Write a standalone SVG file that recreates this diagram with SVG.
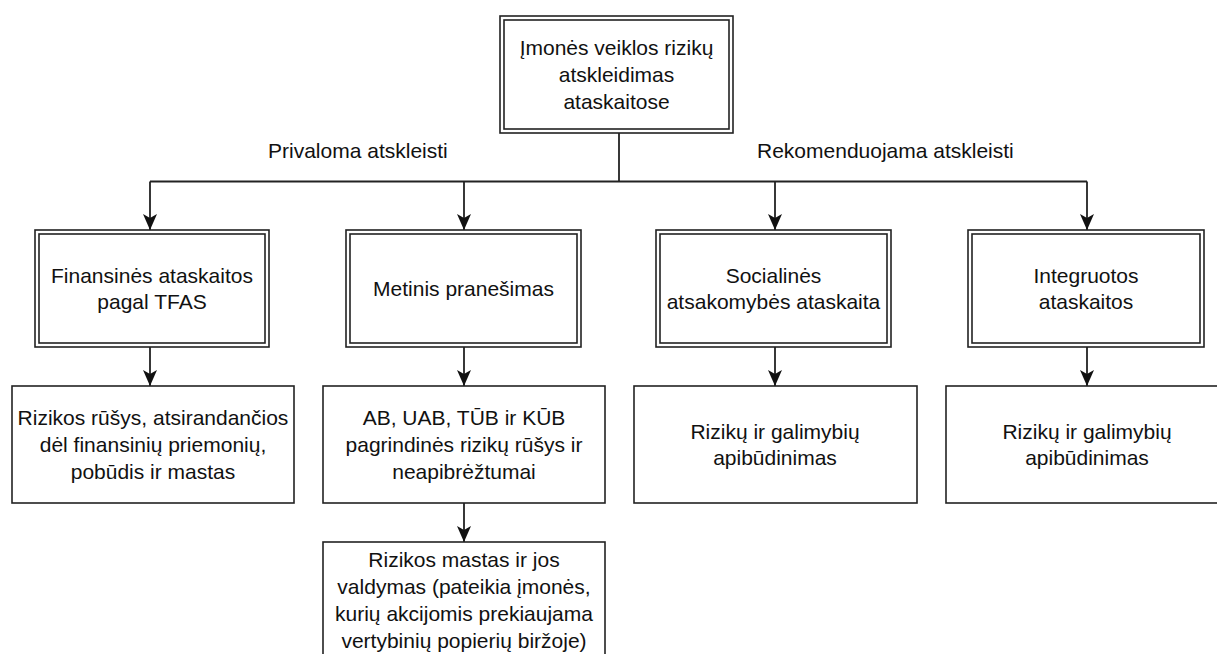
<svg xmlns="http://www.w3.org/2000/svg" width="1217" height="654" viewBox="0 0 1217 654">
  <style>
    .box { fill: #ffffff; stroke: #222222; stroke-width: 1.6; }
    .inner { fill: none; stroke: #222222; stroke-width: 1.6; }
    .edge { fill: none; stroke: #222222; stroke-width: 1.8; }
    text { font-family: "Liberation Sans", Arial, Helvetica, sans-serif; font-size: 21px; fill: #111111; text-anchor: middle; }
    .lbl { text-anchor: start; }
  </style>
  <defs>
    <marker id="arrow" markerUnits="userSpaceOnUse" markerWidth="16" markerHeight="14" refX="16" refY="7" orient="auto">
      <path d="M0,0 L16,7 L0,14 L4,7 Z" fill="#111111"/>
    </marker>
  </defs>
  <rect width="1217" height="654" fill="#ffffff"/>

  <!-- connectors -->
  <g id="connectors">
    <path class="edge" d="M619,133 V181.5"/>
    <path class="edge" d="M150,181.5 H1087"/>
    <path class="edge" d="M150,181.5 V230" marker-end="url(#arrow)"/>
    <path class="edge" d="M464,181.5 V230" marker-end="url(#arrow)"/>
    <path class="edge" d="M775,181.5 V230" marker-end="url(#arrow)"/>
    <path class="edge" d="M1087,181.5 V230" marker-end="url(#arrow)"/>
    <path class="edge" d="M150,347 V386" marker-end="url(#arrow)"/>
    <path class="edge" d="M464,347 V386" marker-end="url(#arrow)"/>
    <path class="edge" d="M775,347 V386" marker-end="url(#arrow)"/>
    <path class="edge" d="M1087,347 V386" marker-end="url(#arrow)"/>
    <path class="edge" d="M464,503 V542" marker-end="url(#arrow)"/>
  </g>

  <!-- edge labels -->
  <text class="lbl" x="268" y="158">Privaloma atskleisti</text>
  <text class="lbl" x="757" y="158">Rekomenduojama atskleisti</text>

  <!-- root -->
  <g id="root">
    <rect class="box" x="500" y="16" width="233" height="117"/>
    <rect class="inner" x="504" y="20" width="225" height="109"/>
    <text x="616.5" y="55">Įmonės veiklos rizikų</text>
    <text x="616.5" y="82">atskleidimas</text>
    <text x="616.5" y="108.5">ataskaitose</text>
  </g>

  <!-- report types -->
  <g id="finansines">
    <rect class="box" x="35" y="230" width="234" height="117"/>
    <rect class="inner" x="39" y="234" width="226" height="109"/>
    <text x="152" y="283">Finansinės ataskaitos</text>
    <text x="152" y="309">pagal TFAS</text>
  </g>
  <g id="metinis">
    <rect class="box" x="346" y="230" width="235" height="117"/>
    <rect class="inner" x="350" y="234" width="227" height="109"/>
    <text x="463.5" y="296">Metinis pranešimas</text>
  </g>
  <g id="socialines">
    <rect class="box" x="656" y="230" width="235" height="117"/>
    <rect class="inner" x="660" y="234" width="227" height="109"/>
    <text x="773.5" y="283">Socialinės</text>
    <text x="773.5" y="309">atsakomybės ataskaita</text>
  </g>
  <g id="integruotos">
    <rect class="box" x="968" y="230" width="236" height="117"/>
    <rect class="inner" x="972" y="234" width="228" height="109"/>
    <text x="1086" y="283">Integruotos</text>
    <text x="1086" y="309">ataskaitos</text>
  </g>

  <!-- disclosed content -->
  <g id="rizikos-rusys">
    <rect class="box" x="12" y="386" width="282" height="117"/>
    <text x="153" y="425">Rizikos rūšys, atsirandančios</text>
    <text x="153" y="452">dėl finansinių priemonių,</text>
    <text x="153" y="478.5">pobūdis ir mastas</text>
  </g>
  <g id="pagrindines-rizikos">
    <rect class="box" x="323" y="386" width="282" height="117"/>
    <text x="464" y="425">AB, UAB, TŪB ir KŪB</text>
    <text x="464" y="452">pagrindinės rizikų rūšys ir</text>
    <text x="464" y="478.5">neapibrėžtumai</text>
  </g>
  <g id="galimybes-soc">
    <rect class="box" x="634" y="386" width="283" height="117"/>
    <text x="775" y="438.5">Rizikų ir galimybių</text>
    <text x="775" y="465">apibūdinimas</text>
  </g>
  <g id="galimybes-int">
    <rect class="box" x="946" y="386" width="282" height="117"/>
    <text x="1087" y="438.5">Rizikų ir galimybių</text>
    <text x="1087" y="465">apibūdinimas</text>
  </g>
  <g id="rizikos-mastas">
    <rect class="box" x="323" y="542" width="282" height="117"/>
    <text x="464" y="567">Rizikos mastas ir jos</text>
    <text x="464" y="594">valdymas (pateikia įmonės,</text>
    <text x="464" y="621">kurių akcijomis prekiaujama</text>
    <text x="464" y="648">vertybinių popierių biržoje)</text>
  </g>
</svg>
